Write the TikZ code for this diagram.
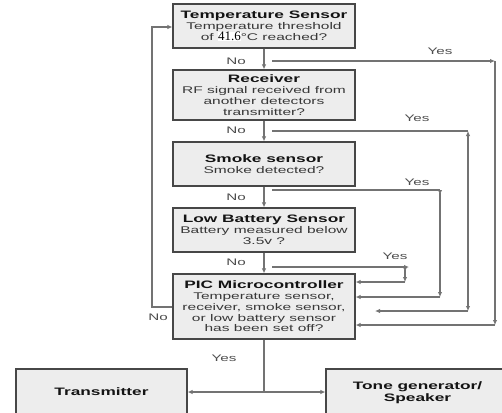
\documentclass[tikz,border=0pt]{standalone}
\usepackage{fontspec}
\setmainfont{Liberation Sans}[FakeStretch=1.6]
\newfontfamily\numfont{Liberation Serif}
\usetikzlibrary{arrows.meta,calc}
\newcommand\boxtitle[1]{{\fontsize{10.8}{10.8}\selectfont\bfseries\color{black!92}#1}}
\begin{document}
\begin{tikzpicture}[x=1pt,y=-1pt,
  box/.style={draw=black!72,fill=black!7,line width=1.2pt,inner sep=0pt,align=center,text=black!78,font=\fontsize{9.7}{10.8}\selectfont},
  conn/.style={draw=black!55,line width=1.1pt},
  arr/.style={conn,-{Latex[length=5pt,width=4.5pt]}},
  revarr/.style={conn,{Latex[reversed,length=5pt,width=4.5pt]}-{Latex[length=5pt,width=4.5pt]}},
  biarr/.style={conn,{Latex[length=5pt,width=4.5pt]}-{Latex[length=5pt,width=4.5pt]}},
  lbl/.style={text=black!70,font=\fontsize{9.5}{10}\selectfont,inner sep=0pt}]
\clip (0,0) rectangle (502,412);
\fill[white] (0,0) rectangle (502,412);

% boxes
\node[box,minimum width=182pt,minimum height=44pt] (temp) at (264,26)
  {\boxtitle{Temperature Sensor}\\Temperature threshold\\of {\fboxsep=0pt\smash{\colorbox{white}{\numfont\fontsize{13}{13}\selectfont\color{black} 41.6}}}°C reached?};
\node[box,minimum width=182pt,minimum height=50pt] (rec) at (264,95)
  {\boxtitle{Receiver}\\RF signal received from\\another detectors\\transmitter?};
\node[box,minimum width=182pt,minimum height=44pt] (smoke) at (264,164)
  {\boxtitle{Smoke sensor}\\Smoke detected?};
\node[box,minimum width=182pt,minimum height=44pt] (batt) at (264,230)
  {\boxtitle{Low Battery Sensor}\\Battery measured below\\3.5v ?};
\node[box,minimum width=182pt,minimum height=65pt] (pic) at (264,306.5)
  {\boxtitle{PIC Microcontroller}\\Temperature sensor,\\receiver, smoke sensor,\\or low battery sensor\\has been set off?};
\node[box,minimum width=171pt,minimum height=48pt] (trans) at (101.5,393)
  {\raisebox{2pt}{\boxtitle{Transmitter}}};
\node[box,minimum width=190pt,minimum height=48pt,font=\fontsize{10.8}{12}\selectfont] (tone) at (421,393)
  {\raisebox{2pt}{\boxtitle{Tone generator/}}\hspace*{7pt}\\\raisebox{2pt}{\boxtitle{Speaker}}\hspace*{7pt}};

% main No path
\draw[arr] (temp.south) -- (rec.north);
\draw[arr] (rec.south) -- (smoke.north);
\draw[arr] (smoke.south) -- (batt.north);
\draw[arr] (batt.south) -- (pic.north);
\node[lbl] (no1) at (236,61) {No};
\node[lbl] (no2) at (236,130.5) {No};
\node[lbl] (no3) at (236,197) {No};
\node[lbl] (no4) at (236,262) {No};

% temperature yes
\coordinate (ty0) at (272,61);
\coordinate (ty1) at (495,61);
\coordinate (ty3) at (495,325);
\draw[arr] (ty0) -- (ty1);
\draw[arr] (ty1) -- (ty3);
\draw[arr] (ty3) -- (pic.east |- ty3);
\node[lbl] (yes1) at (440,51) {Yes};

% receiver yes
\coordinate (ry0) at (272,131);
\coordinate (ry1) at (468,131);
\coordinate (ry2) at (468,311);
\coordinate (ry3) at (375,311);
\draw[conn] (ry0) -- (ry1);
\draw[biarr] (ry1) -- (ry2);
\draw[arr] (ry2) -- (ry3);
\node[lbl] (yes2) at (417,118) {Yes};

% smoke yes
\coordinate (sy0) at (272,190);
\coordinate (sy1) at (440,190);
\coordinate (sy2) at (440,297);
\draw[conn] (sy0) -- (sy1);
\draw[revarr] (sy1) -- (sy2);
\draw[arr] (sy2) -- (pic.east |- sy2);
\node[lbl] (yes3) at (417,182) {Yes};

% battery yes
\coordinate (by0) at (272,267);
\coordinate (by1) at (409,267);
\coordinate (by2) at (405,267);
\coordinate (by3) at (405,282);
\draw[arr] (by0) -- (by1);
\draw[revarr] (by2) -- (by3);
\draw[arr] (by3) -- (pic.east |- by3);
\node[lbl] (yes4) at (395,256) {Yes};

% loop back No
\coordinate (l1) at (152,307);
\coordinate (l2) at (152,27);
\draw[arr] (pic.west |- l1) -- (l1) -- (l2) -- (temp.west |- l2);
\node[lbl] (no5) at (158,317) {No};

% outputs
\coordinate (j) at (264,392);
\draw[conn] (pic.south) -- (j);
\draw[arr] (j) -- (trans.east |- j);
\draw[arr] (j) -- (tone.west |- j);
\node[lbl] (yes5) at (224,358) {Yes};
\end{tikzpicture}
\end{document}
